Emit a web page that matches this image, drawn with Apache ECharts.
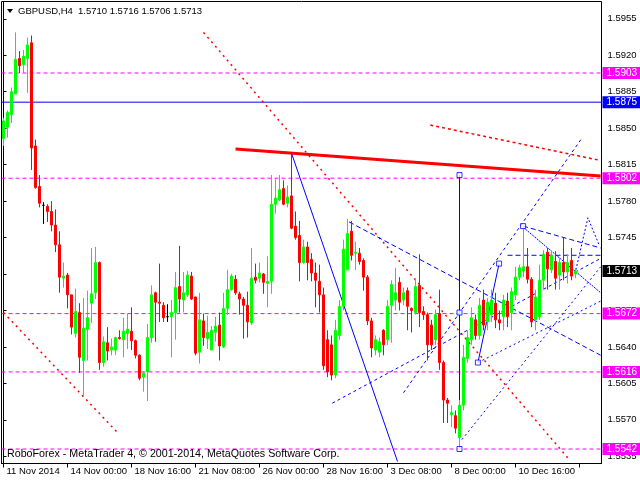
<!DOCTYPE html>
<html><head><meta charset="utf-8">
<script src="https://cdn.jsdelivr.net/npm/echarts@6/dist/echarts.min.js"></script>
<style>html,body{margin:0;padding:0;background:#fff}#c{width:640px;height:480px}</style>
</head><body><div id="c"></div>
<script>
// ---- data (H4 bars, oldest first) ----
const opens = [1.5840,1.5851,1.5863,1.5883,1.5917,1.5911,1.5917,1.5932,1.5833,1.5794,
1.5776,1.5775,1.5770,1.5757,1.5738,1.5706,1.5709,1.5690,1.5653,1.5673,
1.5627,1.5657,1.5682,1.5692,1.5721,1.5625,1.5644,1.5637,1.5637,1.5649,
1.5647,1.5653,1.5655,1.5646,1.5632,1.5611,1.5616,1.5649,1.5692,1.5683,
1.5680,1.5669,1.5669,1.5673,1.5698,1.5685,1.5690,1.5708,1.5688,1.5635,
1.5665,1.5648,1.5637,1.5654,1.5661,1.5640,1.5677,1.5695,1.5705,1.5691,
1.5686,1.5680,1.5663,1.5707,1.5706,1.5710,1.5701,1.5703,1.5777,1.5781,
1.5792,1.5778,1.5785,1.5756,1.5747,1.5721,1.5736,1.5724,1.5711,1.5703,
1.5690,1.5647,1.5642,1.5613,1.5651,1.5679,1.5714,1.5751,1.5730,1.5730,
1.5723,1.5707,1.5665,1.5637,1.5635,1.5656,1.5647,1.5680,1.5685,1.5702,
1.5685,1.5694,1.5677,1.5673,1.5699,1.5674,1.5671,1.5661,1.5647,1.5672,
1.5625,1.5589,1.5575,1.5574,1.5553,1.5584,1.5629,1.5647,1.5666,1.5651,
1.5685,1.5664,1.5671,1.5682,1.5666,1.5669,1.5684,1.5673,1.5690,1.5707,
1.5713,1.5717,1.5705,1.5666,1.5669,1.5704,1.5731,1.5714,1.5722,1.5709,
1.5721,1.5712,1.5723,1.5710];
const closes = [1.5857,1.5865,1.5885,1.5916,1.5910,1.5919,1.5930,1.5831,1.5793,1.5778,
1.5776,1.5770,1.5757,1.5738,1.5707,1.5708,1.5690,1.5659,1.5674,1.5630,
1.5658,1.5668,1.5691,1.5721,1.5625,1.5645,1.5636,1.5640,1.5649,1.5648,
1.5655,1.5657,1.5646,1.5632,1.5610,1.5615,1.5649,1.5690,1.5683,1.5682,
1.5668,1.5669,1.5673,1.5697,1.5686,1.5692,1.5709,1.5686,1.5634,1.5666,
1.5649,1.5654,1.5656,1.5660,1.5641,1.5677,1.5695,1.5708,1.5692,1.5686,
1.5680,1.5664,1.5706,1.5704,1.5711,1.5702,1.5703,1.5777,1.5783,1.5791,
1.5777,1.5784,1.5754,1.5745,1.5721,1.5736,1.5721,1.5711,1.5704,1.5690,
1.5622,1.5616,1.5613,1.5656,1.5679,1.5734,1.5749,1.5728,1.5731,1.5722,
1.5707,1.5665,1.5639,1.5647,1.5645,1.5642,1.5679,1.5700,1.5692,1.5683,
1.5692,1.5679,1.5675,1.5698,1.5673,1.5671,1.5642,1.5642,1.5671,1.5625,
1.5589,1.5586,1.5577,1.5562,1.5584,1.5630,1.5649,1.5668,1.5651,1.5680,
1.5661,1.5683,1.5685,1.5666,1.5663,1.5685,1.5669,1.5693,1.5707,1.5716,
1.5717,1.5705,1.5664,1.5688,1.5704,1.5729,1.5715,1.5728,1.5706,1.5721,
1.5712,1.5721,1.5708,1.5713];
const lows = [1.5833,1.5841,1.5855,1.5883,1.5903,1.5903,1.5884,1.5810,1.5792,1.5774,
1.5758,1.5760,1.5751,1.5731,1.5692,1.5697,1.5677,1.5652,1.5649,1.5615,
1.5592,1.5627,1.5663,1.5686,1.5618,1.5621,1.5627,1.5632,1.5632,1.5647,
1.5630,1.5638,1.5637,1.5629,1.5608,1.5597,1.5588,1.5644,1.5645,1.5664,
1.5664,1.5664,1.5630,1.5647,1.5673,1.5673,1.5688,1.5685,1.5632,1.5624,
1.5641,1.5638,1.5637,1.5645,1.5627,1.5639,1.5671,1.5694,1.5690,1.5671,
1.5648,1.5649,1.5661,1.5701,1.5702,1.5691,1.5678,1.5691,1.5768,1.5780,
1.5776,1.5774,1.5753,1.5743,1.5703,1.5720,1.5704,1.5703,1.5678,1.5673,
1.5618,1.5611,1.5608,1.5610,1.5647,1.5675,1.5714,1.5723,1.5714,1.5719,
1.5694,1.5661,1.5630,1.5632,1.5630,1.5632,1.5642,1.5644,1.5675,1.5675,
1.5680,1.5656,1.5654,1.5671,1.5659,1.5666,1.5627,1.5637,1.5642,1.5618,
1.5567,1.5567,1.5563,1.5557,1.5542,1.5579,1.5625,1.5642,1.5647,1.5647,
1.5656,1.5656,1.5664,1.5658,1.5656,1.5656,1.5659,1.5656,1.5685,1.5704,
1.5707,1.5701,1.5659,1.5656,1.5666,1.5695,1.5695,1.5711,1.5695,1.5695,
1.5704,1.5701,1.5704,1.5706];
const highs = [1.5860,1.5867,1.5889,1.5942,1.5924,1.5925,1.5937,1.5939,1.5839,1.5805,
1.5779,1.5777,1.5780,1.5772,1.5751,1.5721,1.5711,1.5690,1.5696,1.5682,
1.5687,1.5694,1.5735,1.5736,1.5722,1.5650,1.5659,1.5648,1.5650,1.5656,
1.5668,1.5672,1.5678,1.5647,1.5633,1.5616,1.5662,1.5699,1.5693,1.5720,
1.5683,1.5681,1.5685,1.5712,1.5737,1.5712,1.5713,1.5712,1.5688,1.5692,
1.5672,1.5670,1.5660,1.5669,1.5673,1.5692,1.5714,1.5710,1.5709,1.5693,
1.5688,1.5693,1.5735,1.5720,1.5721,1.5711,1.5727,1.5805,1.5801,1.5805,
1.5800,1.5795,1.5826,1.5770,1.5761,1.5743,1.5741,1.5730,1.5721,1.5719,
1.5697,1.5656,1.5651,1.5666,1.5685,1.5743,1.5763,1.5761,1.5741,1.5735,
1.5725,1.5709,1.5668,1.5651,1.5649,1.5657,1.5685,1.5704,1.5716,1.5707,
1.5697,1.5697,1.5678,1.5706,1.5729,1.5679,1.5673,1.5666,1.5676,1.5695,
1.5627,1.5591,1.5584,1.5579,1.5589,1.5642,1.5656,1.5678,1.5671,1.5687,
1.5695,1.5687,1.5695,1.5692,1.5675,1.5690,1.5692,1.5697,1.5717,1.5719,
1.5756,1.5735,1.5707,1.5695,1.5719,1.5733,1.5735,1.5732,1.5732,1.5726,
1.5745,1.5729,1.5735,1.5716];
const totalBars = 150;           // bar slots incl. right shift
const barsPerTick = 16;
const xTickLabels = ['11 Nov 2014','14 Nov 00:00','18 Nov 16:00','21 Nov 08:00','26 Nov 00:00','28 Nov 16:00','3 Dec 08:00','8 Dec 00:00','10 Dec 16:00'];
const yTickValues = [1.5535,1.5570,1.5605,1.5640,1.5675,1.5710,1.5745,1.5780,1.5815,1.5850,1.5885,1.5920,1.5955];
const yMin = 1.552809, yMax = 1.597164;
const header = ['GBPUSD,H4', '1.5710 1.5716 1.5706 1.5713'];
const footer = 'RoboForex - MetaTrader 4, \u00a9 2001-2014, MetaQuotes Software Corp.';
// horizontal levels
const levelPrices = [1.5903, 1.5875, 1.5802, 1.5713, 1.5672, 1.5616, 1.5542];
const levelKinds  = ['mag','blue','mag','bid','mag','mag','mag'];
// trend objects: [barIndex, price] points
const redTrend   = [[58, 1.5830], [149.3, 1.5804]];
const redDotA    = [[50, 1.5942], [141.2, 1.5533]];
const redDotB    = [[0, 1.5673], [28.7, 1.5557]];
const redDashC   = [[106.7, 1.5853], [149.3, 1.5819]];
const blueSolid  = [[72, 1.5826], [98.5, 1.5530]];
const vertLine   = [[114, 1.5805], [114, 1.5542]];
const waveUp     = [[118.6, 1.5625], [123.9, 1.5720]];
const blueDashA  = [[100, 1.5596], [144.7, 1.5841]];
const blueDashB  = [[82.2, 1.5586], [149.3, 1.5725]];
const blueDashC  = [[86.4, 1.5760], [149.3, 1.5632]];
const blueUpper  = [[129.9, 1.5756], [149.3, 1.5735]];
const blueHoriz  = [[126, 1.5728], [149.3, 1.5728]];
const blueThin   = [[129.9, 1.5755], [149.3, 1.5692]];
const blueDotA   = [[114.6, 1.5551], [149.3, 1.5717]];
const blueDotB   = [[118.6, 1.5625], [149.3, 1.5684]];
const projection = [[143.1, 1.5714], [146.1, 1.5764], [148.9, 1.5738]];
const waveMarks  = [[114, 1.5542], [114, 1.5673], [118.6, 1.5625], [123.9, 1.5720], [129.9, 1.5756], [114, 1.5805]];

// ---- build ----
const FONT = 'Liberation Sans';
const FS = 9.5;
const barIds = [];
for (let i = 0; i < totalBars; i++) barIds.push(String(i));
const candles = opens.map((o, i) => [o, closes[i], lows[i], highs[i]]);
const styleOf = {
  mag:  {line: {color: '#FF00FF', type: [4, 3], width: 1}, bg: '#FF00FF'},
  blue: {line: {color: '#0000FF', type: 'solid', width: 1}, bg: '#0000FF'},
  bid:  {line: {color: 'rgba(0,0,0,0)', width: 0}, bg: '#000000'}
};
function seg(points, color, width, type) {
  return {type: 'line', xAxisIndex: 1, yAxisIndex: 0, data: points, showSymbol: false, symbol: 'none',
    silent: true, animation: false, z: 3,
    lineStyle: {color: color, width: width, type: type}};
}
const levelSeries = levelPrices.map((p, k) => ({
  type: 'line', xAxisIndex: 1, yAxisIndex: 0, silent: true, animation: false, z: 2,
  showSymbol: false, symbol: 'none',
  data: [[-0.5, p], [totalBars - 0.5, p]],
  lineStyle: styleOf[levelKinds[k]].line,
  endLabel: {show: true, distance: 1, formatter: p.toFixed(4),
    backgroundColor: styleOf[levelKinds[k]].bg, color: '#fff', fontFamily: FONT, fontSize: 10,
    padding: [1, 4, 0, 4], lineHeight: 11}
}));
const chart = echarts.init(document.getElementById('c'), null, {renderer: 'canvas'});
chart.setOption({
  animation: false,
  backgroundColor: '#fff',
  grid: {left: 1.5, right: 38.5, top: 1.5, bottom: 16.5, show: true, borderColor: '#000', borderWidth: 1, backgroundColor: '#fff'},
  xAxis: [{
    type: 'category', data: barIds, boundaryGap: true,
    axisLine: {show: true, lineStyle: {color: '#000'}},
    axisTick: {show: true, alignWithLabel: true, length: 4, interval: (i) => i % barsPerTick === 0, lineStyle: {color: '#000'}},
    axisLabel: {interval: (i) => i % barsPerTick === 0,
      formatter: (v, i) => (i % barsPerTick === 0 && xTickLabels[i / barsPerTick]) ? xTickLabels[i / barsPerTick] : '',
      align: 'left', padding: [0, 0, 0, 3], color: '#000', fontFamily: FONT, fontSize: FS, margin: 3},
    splitLine: {show: false}
  }, {
    type: 'value', min: -0.5, max: totalBars - 0.5, show: false
  }],
  yAxis: [{
    type: 'value', position: 'right', min: yMin, max: yMax,
    splitLine: {show: false},
    axisLine: {show: true, lineStyle: {color: '#000'}},
    axisTick: {show: true, length: 3, customValues: yTickValues, lineStyle: {color: '#000'}},
    axisLabel: {customValues: yTickValues, formatter: (v) => v.toFixed(4), color: '#000', fontFamily: FONT, fontSize: FS, margin: 6}
  }],
  series: [
    {
      type: 'candlestick', data: candles, barWidth: 2, z: 4,
      itemStyle: {color: '#00FF00', color0: '#FF0000', borderColor: '#00FF00', borderColor0: '#FF0000', borderColorDoji: '#000', borderWidth: 1}
    },
    ...levelSeries,
    seg(redTrend, '#FF0000', 3, 'solid'),
    seg(redDotA, '#FF0000', 1.5, [2, 4]),
    seg(redDotB, '#FF0000', 1.5, [2, 4]),
    seg(redDashC, '#FF0000', 1.5, [3, 3]),
    seg(blueSolid, '#0000FF', 1, 'solid'),
    seg(vertLine, '#0000FF', 1, 'solid'),
    seg(waveUp, '#0000FF', 1, 'solid'),
    seg(blueDashA, '#0000FF', 1, [3, 3]),
    seg(blueDashB, '#0000FF', 1, [3, 3]),
    seg(blueDashC, '#0000FF', 1, [5, 3]),
    seg(blueUpper, '#0000FF', 1, [5, 3]),
    seg(blueHoriz, '#0000FF', 1, [5, 3]),
    seg(blueThin, '#0000FF', 1, [2, 1]),
    seg(blueDotA, '#0000FF', 1, [2, 3]),
    seg(blueDotB, '#0000FF', 1, [2, 3]),
    seg(projection, '#0000FF', 1, [2, 2]),
    {type: 'scatter', xAxisIndex: 1, yAxisIndex: 0, data: waveMarks, symbol: 'rect', symbolSize: 5, silent: true, z: 5,
      itemStyle: {color: '#fff', borderColor: '#0000FF', borderWidth: 1}}
  ],
  graphic: [
    {type: 'polygon', shape: {points: [[7, 9], [13, 9], [10, 13]]}, style: {fill: '#000'}},
    {type: 'text', left: 18, top: 6, style: {text: header[0], fill: '#000', font: FS + 'px "Liberation Sans"'}},
    {type: 'text', left: 78, top: 6, style: {text: header[1], fill: '#000', font: FS + 'px "Liberation Sans"'}},
    {type: 'text', left: 7, top: 449, z: 10, style: {text: footer, fill: '#000', font: '10.7px "Liberation Sans"'}}
  ]
});
</script></body></html>
